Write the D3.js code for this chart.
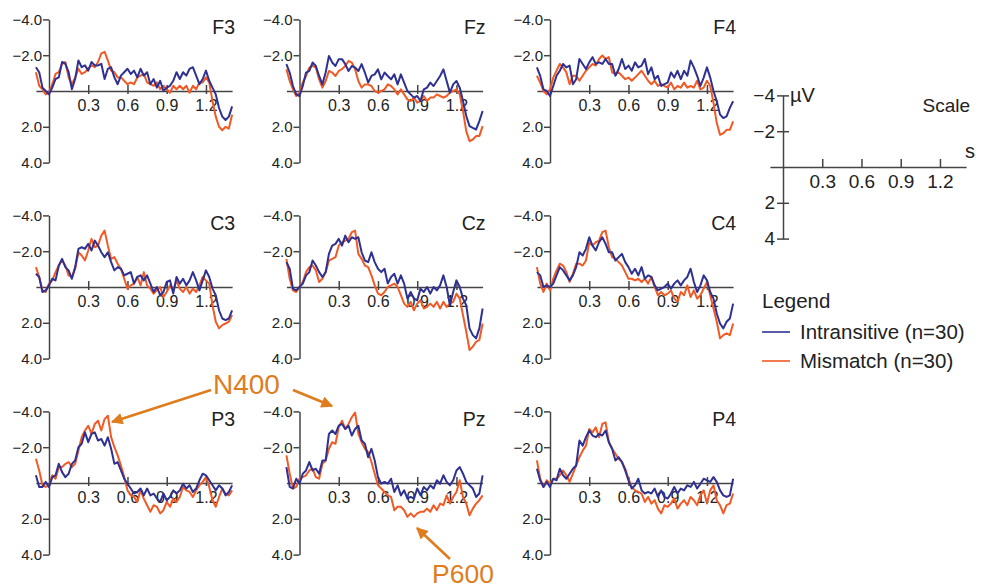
<!DOCTYPE html>
<html><head><meta charset="utf-8">
<script src="https://cdn.jsdelivr.net/npm/d3@7"></script>
<style>
html,body{margin:0;padding:0;background:#fff;}
svg text{font-family:"Liberation Sans",Arial,sans-serif;fill:#222;}
</style></head>
<body><svg id="chart" width="986" height="588"></svg>
<script>
// ---------- DATA (µV, negative plotted upward) ----------
const times = [-0.1,-0.075,-0.05,-0.025,0,0.025,0.05,0.075,0.1,0.125,0.15,0.175,0.2,0.225,0.25,0.275,0.3,0.325,0.35,0.375,0.4,0.425,0.45,0.475,0.5,0.525,0.55,0.575,0.6,0.625,0.65,0.675,0.7,0.725,0.75,0.775,0.8,0.825,0.85,0.875,0.9,0.925,0.95,0.975,1.0,1.025,1.05,1.075,1.1,1.125,1.15,1.175,1.2,1.225,1.25,1.275,1.3,1.325,1.35,1.375,1.4];
const channels = ["F3","Fz","F4","C3","Cz","C4","P3","Pz","P4"];
const seriesNames = ["Intransitive (n=30)","Mismatch (n=30)"];
const yTickValues = [-4,-2,2,4];
const xTickValues = [0.3,0.6,0.9,1.2];

const intrF3 = [-1.33,-1.05,-0.19,0,0.19,-0.19,-0.67,-0.76,-1.62,-1.52,-1.05,-0.1,-0.67,-1.71,-1.33,-1.43,-1.14,-1.62,-1.43,-1.43,-1.52,-0.67,-1.24,-1.33,-0.76,-0.38,-0.86,-1.05,-1.24,-0.95,-1.14,-0.76,-1.24,-0.86,-1.05,-0.38,-0.67,-0.19,-0.57,0,-0.19,-0.29,-0.57,-1.05,-0.67,-1.05,-0.86,-1.24,-1.33,-0.86,-0.38,-0.67,-1.14,-0.57,-0.19,0.19,0.95,1.43,1.62,1.43,0.86];
const mismF3 = [-1.05,-0.29,-0.1,0.19,0.1,-0.38,-0.95,-1.05,-1.52,-1.62,-0.76,-0.38,-0.76,-1.24,-0.95,-1.05,-1.24,-1.43,-1.33,-1.62,-2.1,-2.19,-1.71,-1.14,-1.05,-0.76,-0.76,-0.57,-0.38,-0.48,-0.38,-0.76,-0.86,-0.95,-0.48,-0.38,-0.29,-0.48,-0.1,-0.29,-0.1,0.1,-0.29,-0.1,-0.29,-0.1,-0.29,0.1,-0.29,-0.1,-0.48,-0.48,-0.76,-0.48,0.57,1.43,2.0,2.19,2.0,2.1,1.33];
const intrFz = [-1.5,-1.03,-0.28,0.19,0.28,-0.28,-1.03,-1.12,-1.59,-1.4,-0.84,-0.37,-1.03,-1.96,-1.59,-1.4,-1.78,-1.78,-1.5,-1.12,-1.4,-1.31,-1.12,-1.5,-1.03,-0.47,-0.84,-0.93,-1.21,-0.65,-1.03,-0.84,-0.65,-0.93,-0.37,-0.93,-0.47,0,0.19,0.37,0.28,0.56,-0.09,-0.19,-0.47,-0.28,-0.56,-0.84,-1.21,-0.56,0.09,-0.37,-0.56,-0.19,0.56,1.4,1.96,2.06,2.15,1.68,1.12];
const mismFz = [-1.22,-0.56,-0.09,0.28,0.09,-0.47,-0.84,-1.31,-1.4,-1.31,-0.65,-0.19,-0.56,-1.12,-1.03,-0.84,-1.12,-1.22,-1.4,-1.68,-1.59,-1.22,-0.56,-0.19,-0.37,-0.37,-0.28,0,0.09,0,-0.09,-0.37,-0.28,-0.09,0.19,-0.09,0.19,0.47,0.56,0.37,0.65,0.56,0.28,0.56,0.37,0.37,0.19,0.28,0.37,0.28,0.09,0,-0.09,0.19,1.12,2.24,2.8,2.71,2.52,2.52,1.96];
const intrF4 = [-1.32,-0.85,-0.09,0,0.28,-0.28,-0.85,-1.13,-1.51,-1.32,-1.42,-0.38,-0.66,-1.79,-1.51,-1.23,-1.6,-1.89,-1.51,-1.6,-1.51,-1.79,-1.51,-1.51,-0.85,-1.23,-1.79,-1.23,-1.42,-1.13,-1.6,-1.32,-1.42,-1.79,-0.94,-1.32,-0.66,-0.85,-0.28,-0.38,-0.47,-1.04,-0.75,-1.13,-0.66,-1.13,-0.85,-1.7,-1.32,-0.85,-0.28,-0.75,-1.32,-0.75,0,0.57,1.32,1.51,1.42,0.94,0.57];
const mismF4 = [-0.85,-0.47,0,0.19,-0.09,-0.75,-1.13,-1.51,-1.32,-1.04,-0.38,-0.85,-0.85,-0.57,-0.85,-1.13,-1.32,-1.51,-1.42,-1.79,-1.98,-1.79,-1.89,-1.04,-0.94,-1.04,-0.85,-0.66,-0.75,-0.57,-0.75,-0.94,-1.13,-0.85,-0.57,-0.38,-0.57,-0.28,-0.38,-0.28,-0.19,-0.47,-0.09,-0.28,-0.19,-0.47,-0.19,-0.28,-0.19,-0.57,-0.09,-0.19,-0.57,-0.28,0.66,1.79,2.45,2.36,2.17,2.17,1.7];
const intrC3 = [-0.74,-0.56,0.28,0.19,-0.09,-0.46,-0.37,-1.2,-1.57,-1.11,-0.93,-0.46,-1.11,-2.13,-2.22,-2.13,-2.41,-2.04,-2.59,-2.31,-1.94,-1.67,-1.94,-1.39,-0.93,-1.11,-1.02,-0.65,-0.74,-0.83,-0.19,-0.56,-0.65,-0.37,-0.65,-0.19,0.28,0,0.46,0.28,-0.28,-0.37,0.37,-0.56,-0.19,-0.46,-0.09,-0.37,-0.83,-0.37,0.19,-0.37,-0.93,-0.56,0.09,0.46,1.3,1.76,1.85,1.76,1.3];
const mismC3 = [-1.11,-0.56,0.19,0.28,-0.19,-0.37,-0.83,-1.2,-1.48,-1.2,-0.65,-0.56,-1.02,-1.94,-1.76,-1.48,-2.04,-2.69,-2.22,-2.31,-2.87,-3.15,-2.31,-1.57,-1.67,-1.3,-1.02,-0.46,0.09,-0.09,-0.19,-0.56,-0.09,-0.83,-0.09,0.09,0.37,0.19,0,0.56,0.28,-0.09,0.19,-0.37,0.09,0.28,0,0.37,0.09,0.28,-0.09,-0.56,-0.37,-0.19,1.02,1.94,2.31,2.13,2.04,1.94,1.57];
const intrCz = [-1.39,-1.02,0.09,0.19,0,-0.19,-0.65,-0.83,-1.48,-1.2,-0.83,-0.56,-0.83,-1.85,-2.31,-2.41,-2.69,-2.31,-2.87,-2.5,-2.78,-2.69,-2.78,-1.94,-1.48,-1.39,-1.94,-1.39,-1.02,-0.83,-1.02,-0.19,-0.56,-0.74,-0.19,-0.65,-0.19,0.65,0.28,0.65,0.74,0.09,0.28,0,0.37,0,0.19,-0.09,-0.65,0,1.02,0.28,-0.37,0,0.65,1.02,2.31,2.69,2.87,2.31,1.2];
const mismCz = [-1.57,-0.46,0.19,0.28,0,-0.28,-0.83,-1.11,-1.2,-0.93,-0.28,-0.46,-0.83,-1.48,-1.57,-1.67,-2.31,-2.5,-2.59,-2.69,-3.06,-3.15,-1.85,-1.57,-1.2,-1.11,-0.65,-0.09,0.37,0.46,0.28,0,-0.09,-0.19,0,0.46,0.93,1.11,0.83,1.3,0.93,0.74,1.2,1.11,0.93,1.11,0.83,1.2,0.83,1.11,0.93,0.83,0.37,0.65,1.57,2.5,3.52,3.33,3.06,2.96,2.04];
const intrC4 = [-0.83,-0.65,0,-0.09,0,-0.19,-0.65,-1.11,-0.93,-0.65,-0.37,-0.65,-1.11,-1.94,-1.76,-2.13,-2.78,-2.31,-2.04,-2.5,-2.78,-2.41,-1.94,-1.94,-1.48,-1.67,-1.85,-1.39,-1.11,-0.74,-1.02,-0.65,-1.11,-0.46,-0.65,-0.56,-0.09,0.19,0.09,0,-0.19,0.09,-0.19,-0.37,-0.09,-0.37,-0.56,-1.02,-0.28,0.28,-0.09,-0.65,-0.37,0.28,0.65,1.48,2.04,2.31,1.94,1.76,0.93];
const mismC4 = [-1.11,-0.19,0.28,-0.19,0.19,-0.46,-0.93,-1.3,-1.2,-0.83,-0.28,-0.74,-1.3,-1.3,-1.2,-1.48,-2.5,-2.31,-2.5,-2.59,-3.06,-3.15,-2.22,-1.67,-1.57,-1.39,-1.2,-0.83,-0.46,-0.46,-0.37,-0.46,-0.28,-0.46,-0.19,-0.56,0,0.46,0.28,0.46,0.37,0.19,0.65,0.83,0.28,0.46,-0.09,0.56,0.19,0.65,0.46,0.09,-0.28,0.46,1.2,1.94,2.87,2.69,2.59,2.69,2.04];
const intrP3 = [-0.43,0.22,0.22,-0.06,0.22,-0.33,-0.43,-1.07,-0.61,-0.33,-0.52,-1.07,-1.26,-2.0,-2.19,-2.83,-2.28,-2.74,-2.83,-2.37,-2.46,-2.09,-2.56,-1.91,-1.07,-1.17,-0.7,-0.24,0.04,0.31,0.59,0.5,0.31,0.69,0.31,0.69,0.59,0.87,1.06,0.59,0.96,0.78,0.41,0.59,0.41,0.04,0.31,0.13,0.5,0.31,-0.15,-0.52,-0.43,-0.15,0.13,0.41,0.13,0.31,0.69,0.5,0.13];
const mismP3 = [-1.35,-0.7,0.13,0.22,0.13,-0.43,-0.24,-0.89,-0.89,-1.07,-1.17,-0.89,-1.07,-1.81,-2.56,-2.93,-3.2,-2.74,-3.3,-3.48,-2.93,-3.57,-3.76,-2.56,-2.0,-1.54,-0.98,-0.33,0.41,0.69,0.78,1.06,0.41,0.87,1.24,1.61,1.24,1.33,1.7,1.52,1.06,1.33,0.87,1.06,0.78,0.22,0.41,0.5,0.78,0.41,0.13,-0.06,-0.33,0.22,0.96,1.33,0.78,0.31,0.59,0.69,0.41];
const intrPz = [-0.89,0.22,0.31,-0.24,0.04,-0.52,-0.7,-1.17,-0.7,-0.8,-0.52,-1.26,-1.26,-2.74,-2.93,-2.74,-3.2,-3.3,-3.02,-3.2,-2.65,-3.02,-3.2,-2.37,-2.19,-1.44,-1.91,-1.26,-0.33,0.04,-0.06,0.04,-0.24,0.5,0.13,0.69,0.41,0.87,0.78,0.87,0.31,0.69,0.22,0.41,0.13,0.31,-0.15,0.04,-0.43,-0.06,0.13,-0.15,-0.7,-0.89,-0.52,-0.06,0.13,0.31,0.78,0.59,-0.43];
const mismPz = [-1.54,-0.52,0.31,0.22,-0.24,-0.33,-0.43,-0.7,-0.8,-0.33,-0.24,-1.07,-1.26,-1.91,-2.28,-2.19,-3.11,-3.48,-3.02,-3.3,-3.67,-3.94,-2.74,-2.28,-1.91,-1.72,-1.17,-0.52,0.13,0.31,0.5,0.69,0.78,1.52,1.33,1.33,1.52,1.89,1.7,1.89,1.7,1.61,1.61,1.43,1.61,1.24,1.52,1.15,1.24,0.69,1.15,0.78,0.5,-0.15,0.78,1.15,1.8,1.43,1.15,0.96,0.69];
const intrP4 = [-0.8,-0.15,0.22,-0.06,0.22,-0.24,-0.15,-0.8,-0.43,-0.24,-0.52,-0.8,-0.98,-2.37,-2.09,-2.56,-2.93,-2.65,-2.56,-2.74,-2.65,-2.93,-2.28,-1.91,-1.26,-1.44,-1.17,-0.7,-0.15,0.31,0.13,-0.24,0.41,0.59,0.5,0.59,0.31,0.78,0.41,0.78,0.87,0.59,0.22,0.59,0.31,0.41,0.13,0.22,-0.06,0.31,0.04,-0.24,-0.15,-0.06,-0.33,-0.06,0.41,0.69,0.78,0.69,-0.24];
const mismP4 = [-1.26,-0.24,0.22,-0.15,0.04,-0.24,-0.24,-0.43,-0.7,-0.43,-0.06,-0.52,-0.98,-1.44,-1.81,-2.09,-3.02,-2.83,-3.11,-2.56,-3.3,-3.39,-2.28,-1.91,-1.63,-1.35,-1.17,-0.8,-0.24,0.22,0.41,0.5,0.59,1.06,0.78,1.15,0.96,1.43,1.7,1.24,1.33,1.15,0.87,1.43,1.15,0.96,1.24,0.78,0.96,1.24,0.69,0.41,1.15,0.41,0.13,0.96,1.24,1.7,1.24,1.15,0.59];

const intransitive = [intrF3,intrFz,intrF4,intrC3,intrCz,intrC4,intrP3,intrPz,intrP4];
const mismatch = [mismF3,mismFz,mismF4,mismC3,mismCz,mismC4,mismP3,mismPz,mismP4];

// ---------- STYLE / LAYOUT ----------
const colBlue = "#2e3192", colOrange = "#f15a24", colAnno = "#df7d1e", colAxis = "#444";
const colX = [49, 299.5, 550];
const rowZero = [91, 287, 483];
const pxPerSec = 130.8, pxPerUV = 17.9;

const svg = d3.select("#chart");
const fmt1 = d3.format(".1f");

function drawAxes(g, x, y, opts){
  const ya = d3.axisLeft(y).tickValues(yTickValues).tickSizeInner(opts.yTickInner).tickSizeOuter(0)
     .tickPadding(opts.yPad).tickFormat(opts.yFmt);
  const yg = g.append("g").attr("transform", `translate(${x(0)},0)`).call(ya);
  yg.selectAll("text").style("font-size", opts.yFont+"px");
  if (opts.yCross) yg.selectAll(".tick line").attr("x2", -opts.yTickInner).attr("x1", opts.yTickInner);
  const xa = d3.axisBottom(x).tickValues(xTickValues).tickSizeInner(opts.xTickDown).tickSizeOuter(0)
     .tickPadding(opts.xPad).tickFormat(d3.format(".1f"));
  const xg = g.append("g").attr("transform", `translate(0,${y(0)})`).call(xa);
  xg.selectAll(".tick line").attr("y1", -opts.xTickUp);
  xg.selectAll("text").style("font-size", opts.xFont+"px");
  [yg, xg].forEach(a => {
    a.select(".domain").attr("stroke", colAxis).attr("stroke-width", 1.5);
    a.selectAll(".tick line").attr("stroke", colAxis).attr("stroke-width", 1.5);
    a.selectAll("text").attr("fill", "#222").style("font-family", '"Liberation Sans",Arial,sans-serif');
  });
}

channels.forEach((ch, i) => {
  const cx = colX[i % 3], cz = rowZero[Math.floor(i / 3)];
  const x = d3.scaleLinear().domain([-0.1, 1.4]).range([cx - 0.1*pxPerSec, cx + 1.4*pxPerSec]);
  const y = d3.scaleLinear().domain([-4, 4]).range([cz - 4*pxPerUV, cz + 4*pxPerUV]);
  const g = svg.append("g");
  drawAxes(g, x, y, {yTickInner:6, yPad:1, yFmt:fmt1, yFont:15, yCross:false,
                     xTickDown:3, xTickUp:6, xPad:6, xFont:16});
  const line = d3.line().x((d, k) => x(times[k])).y(d => y(d));
  g.append("path").datum(mismatch[i]).attr("d", line).attr("fill","none")
    .attr("stroke", colOrange).attr("stroke-width", 2).attr("stroke-linejoin","round");
  g.append("path").datum(intransitive[i]).attr("d", line).attr("fill","none")
    .attr("stroke", colBlue).attr("stroke-width", 2).attr("stroke-linejoin","round");
  g.append("text").attr("x", x(1.4) + 3).attr("y", y(-4) + 15).attr("text-anchor","end")
    .style("font-size","19.5px").text(ch);
});

// ---------- SCALE PANEL ----------
{
  const cx = 783, cz = 167;
  const x = d3.scaleLinear().domain([-0.1, 1.4]).range([cx - 0.1*pxPerSec, cx + 1.4*pxPerSec]);
  const y = d3.scaleLinear().domain([-4, 4]).range([cz - 4*pxPerUV, cz + 4*pxPerUV]);
  const g = svg.append("g");
  drawAxes(g, x, y, {yTickInner:6, yPad:2, yFmt:d3.format("d"), yFont:19, yCross:true,
                     xTickDown:0, xTickUp:8, xPad:8, xFont:19});
  g.append("text").attr("x", cx + 7).attr("y", y(-4) + 7).style("font-size","20px").text("µV");
  g.append("text").attr("x", 970).attr("y", 112).attr("text-anchor","end").style("font-size","19px").text("Scale");
  g.append("text").attr("x", 975).attr("y", 158).attr("text-anchor","end").style("font-size","20px").text("s");
}

// ---------- LEGEND ----------
{
  const g = svg.append("g");
  g.append("text").attr("x", 762).attr("y", 308).style("font-size","20.5px").text("Legend");
  const cols = [colBlue, colOrange];
  seriesNames.forEach((n, k) => {
    const yy = 332 + k*29;
    g.append("line").attr("x1", 762).attr("x2", 790).attr("y1", yy).attr("y2", yy)
      .attr("stroke", cols[k]).attr("stroke-width", 1.6);
    g.append("text").attr("x", 800).attr("y", yy + 7).style("font-size","20.5px").attr("fill","#333").text(n);
  });
}

// ---------- ANNOTATIONS ----------
{
  const defs = svg.append("defs");
  defs.append("marker").attr("id","ah").attr("viewBox","0 0 10 10").attr("refX",9).attr("refY",5)
    .attr("markerWidth",5).attr("markerHeight",4.5).attr("orient","auto").attr("markerUnits","strokeWidth")
    .append("path").attr("d","M0,0 L10,5 L0,10 z").attr("fill", colAnno);
  const arrows = [[211,390,112,422],[293,390,332,406],[450,559,417,528]];
  arrows.forEach(a => svg.append("line").attr("x1",a[0]).attr("y1",a[1]).attr("x2",a[2]).attr("y2",a[3])
    .attr("stroke", colAnno).attr("stroke-width", 2.6).attr("marker-end","url(#ah)"));
  svg.append("text").attr("x", 213).attr("y", 394).style("font-size","28px").style("fill", colAnno).text("N400");
  svg.append("text").attr("x", 432).attr("y", 583).style("font-size","26.5px").style("fill", colAnno).text("P600");
}
</script></body></html>
